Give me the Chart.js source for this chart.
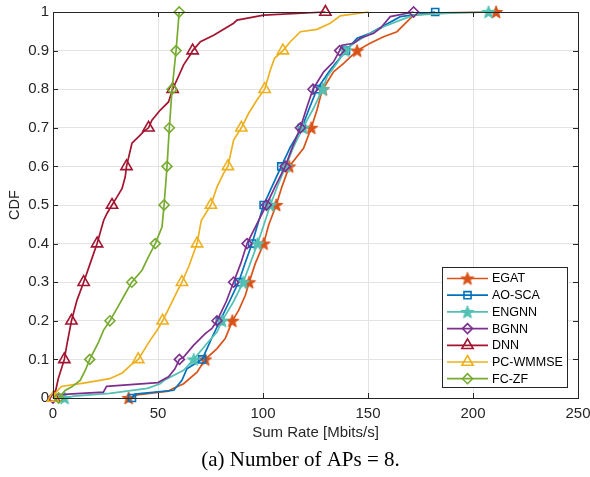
<!DOCTYPE html>
<html>
<head>
<meta charset="utf-8">
<script src="https://cdn.jsdelivr.net/npm/chart.js@4.4.1/dist/chart.umd.min.js"></script>
<style>
  html, body { margin: 0; padding: 0; background: #fff; }
  #wrap { width: 590px; height: 477px; }
</style>
</head>
<body>
<div id="wrap"><canvas id="cdfChart" width="590" height="477"></canvas></div>
<script>
const rateTicks = [0, 50, 100, 150, 200, 250];
const cdfTicks = [0, 0.1, 0.2, 0.3, 0.4, 0.5, 0.6, 0.7, 0.8, 0.9, 1];
const caption = "(a) Number of APs = 8.";

// empirical CDF of the sum rate, one pair of arrays per method
const egatRate = [36, 40, 55, 57.4, 62.2, 68.6, 72.5, 78.1, 82, 83.6, 85.4, 88.4, 91.6, 93.4, 96.3, 100.3, 102.7, 106.3, 109, 112.5, 119.3, 123, 125.7, 127.3, 128.5, 133.6, 138.4, 144.8, 151, 157.4, 163.8, 168.6, 171.7, 185, 211];
const egatCdf = [0, 0.008, 0.018, 0.025, 0.037, 0.067, 0.1, 0.128, 0.154, 0.175, 0.2, 0.227, 0.266, 0.3, 0.348, 0.4, 0.448, 0.5, 0.547, 0.6, 0.647, 0.7, 0.746, 0.78, 0.8, 0.845, 0.867, 0.9, 0.919, 0.936, 0.949, 0.975, 0.992, 0.998, 1];

const aoscaRate = [37.6, 39, 57.5, 61.4, 63.8, 71, 73.5, 76, 79.5, 84, 88.4, 91.5, 94.8, 97.5, 100.3, 104.5, 108.7, 113, 118.5, 122, 125.7, 132, 139.5, 144.8, 151, 165.4, 182];
const aoscaCdf = [0, 0.01, 0.02, 0.046, 0.076, 0.1, 0.13, 0.16, 0.2, 0.25, 0.3, 0.35, 0.4, 0.45, 0.5, 0.55, 0.6, 0.65, 0.7, 0.75, 0.8, 0.85, 0.9, 0.932, 0.945, 0.988, 1];

const engnnRate = [5.5, 10, 27, 45, 51, 53, 62.2, 67, 73.3, 78.1, 80.5, 86, 90.6, 94, 97.4, 100.5, 103.5, 107, 110.8, 114.5, 119, 124, 128.4, 130.5, 135.2, 139.2, 143.2, 149.5, 157.4, 165.4, 171.7, 189, 207.4];
const engnnCdf = [0, 0.005, 0.012, 0.025, 0.037, 0.046, 0.072, 0.1, 0.141, 0.171, 0.2, 0.25, 0.3, 0.35, 0.4, 0.45, 0.5, 0.55, 0.6, 0.65, 0.7, 0.75, 0.8, 0.832, 0.867, 0.9, 0.919, 0.94, 0.962, 0.979, 0.992, 0.997, 1];

const bgnnRate = [0, 1, 24, 25.5, 50, 55, 58, 60.2, 62.2, 67, 72.5, 75.7, 78.1, 82.5, 86, 89.5, 92.4, 97, 101.6, 106, 110.6, 114, 117.8, 121, 123.8, 128.9, 133.6, 136.5, 137.6, 143.2, 146.3, 152.7, 155.9, 160.6, 171.7];
const bgnnCdf = [0, 0.008, 0.015, 0.03, 0.04, 0.055, 0.075, 0.1, 0.106, 0.137, 0.167, 0.18, 0.2, 0.25, 0.3, 0.35, 0.4, 0.45, 0.5, 0.55, 0.6, 0.65, 0.7, 0.755, 0.8, 0.845, 0.871, 0.9, 0.914, 0.919, 0.932, 0.945, 0.958, 0.988, 1];

const dnnRate = [0.5, 2.5, 5.4, 6.7, 8.8, 11.4, 14.6, 17.8, 21, 24.1, 25.7, 28.1, 30.5, 32.9, 34.4, 35, 37.6, 40.8, 43.1, 45.5, 47.1, 51.1, 55, 57, 62.2, 65.4, 66.5, 70.2, 76.5, 86, 87.6, 100.3, 129.7];
const dnnCdf = [0, 0.05, 0.1, 0.141, 0.2, 0.253, 0.3, 0.35, 0.4, 0.46, 0.478, 0.5, 0.521, 0.543, 0.573, 0.6, 0.66, 0.677, 0.69, 0.7, 0.72, 0.746, 0.767, 0.8, 0.863, 0.889, 0.9, 0.923, 0.94, 0.971, 0.979, 0.992, 1];

const wmmseRate = [0, 1.5, 4, 16, 27, 33, 37, 40.6, 46.3, 49.5, 52.2, 56.7, 59, 61.4, 64.6, 68.6, 70.6, 75.2, 78.1, 81.2, 83.3, 86, 89.7, 93.1, 97.1, 100.8, 103.5, 105.5, 109.5, 113, 117.8, 125.7, 132, 136.8, 150.3];
const wmmseCdf = [0, 0.015, 0.03, 0.04, 0.05, 0.065, 0.085, 0.1, 0.15, 0.175, 0.2, 0.249, 0.275, 0.3, 0.34, 0.4, 0.46, 0.5, 0.547, 0.582, 0.6, 0.668, 0.7, 0.737, 0.772, 0.8, 0.85, 0.88, 0.9, 0.923, 0.949, 0.955, 0.971, 0.99, 1];

const fczfRate = [2.7, 5.9, 9, 13, 15.4, 17.5, 21.7, 24.1, 27.1, 30.5, 34.4, 37.5, 42.4, 45.5, 48.7, 51.9, 52.9, 54.3, 55.4, 56.7, 58.6, 60.1];
const fczfCdf = [0, 0.02, 0.029, 0.046, 0.072, 0.1, 0.145, 0.176, 0.2, 0.232, 0.27, 0.3, 0.331, 0.366, 0.4, 0.443, 0.5, 0.6, 0.7, 0.8, 0.9, 1];

const seriesNames = ["EGAT", "AO-SCA", "ENGNN", "BGNN", "DNN", "PC-WMMSE", "FC-ZF"];
const seriesRates = [egatRate, aoscaRate, engnnRate, bgnnRate, dnnRate, wmmseRate, fczfRate];
const seriesCdfs = [egatCdf, aoscaCdf, engnnCdf, bgnnCdf, dnnCdf, wmmseCdf, fczfCdf];
// highest CDF level that still gets a marker
const lastMarked = [1, 1, 1, 1, 1, 0.9, 1];

const colors = ["#D95319", "#0072BD", "#52C1B3", "#7E2F8E", "#A2142F", "#EDB120", "#77AC30"];
const markers = ["star", "rect", "star", "rectRot", "triangle", "triangle", "rectRot"];
const markerSize = { star: 7, rect: 5, rectRot: 5, triangle: 6.5 };

// five-pointed star, Chart.js only has an asterisk
function pentagram(color) {
  const c = document.createElement("canvas");
  c.width = 16;
  c.height = 16;
  const g = c.getContext("2d");
  g.translate(8, 8.6);
  g.beginPath();
  for (let k = 0; k < 10; k++) {
    const r = k % 2 === 0 ? 6.8 : 2.8;
    const a = -Math.PI / 2 + (k * Math.PI) / 5;
    g.lineTo(r * Math.cos(a), r * Math.sin(a));
  }
  g.closePath();
  g.fillStyle = color;
  g.fill();
  g.strokeStyle = color;
  g.lineWidth = 1;
  g.stroke();
  return c;
}

function onDecile(y) {
  return Math.abs(y * 10 - Math.round(y * 10)) < 1e-9;
}

const datasets = seriesNames.map((name, i) => {
  const style = markers[i] === "star" ? pentagram(colors[i]) : markers[i];
  return {
    label: name,
    data: seriesRates[i].map((x, k) => ({ x: x, y: seriesCdfs[i][k] })),
    borderColor: colors[i],
    backgroundColor: colors[i],
    borderWidth: 1.7,
    tension: 0,
    clip: false,
    order: seriesNames.length - i,
    pointStyle: style,
    pointBorderColor: colors[i],
    pointBackgroundColor: "rgba(0,0,0,0)",
    pointBorderWidth: 1.6,
    pointRadius: (c) => {
      const y = c.raw ? c.raw.y : 0;
      return onDecile(y) && y <= lastMarked[i] + 1e-9 ? markerSize[markers[i]] : 0;
    },
    pointHoverRadius: 0,
  };
});

const tickFont = { family: "'Liberation Sans', Arial, sans-serif", size: 15 };
const ink = "#262626";

// closed box with inward tick marks on all four sides
const axesBox = {
  id: "axesBox",
  afterDatasetsDraw(chart) {
    const { ctx, chartArea: a, scales } = chart;
    const len = 5;
    ctx.save();
    ctx.strokeStyle = ink;
    ctx.lineWidth = 1;
    ctx.strokeRect(a.left + 0.5, a.top + 0.5, a.right - a.left, a.bottom - a.top);
    ctx.beginPath();
    rateTicks.forEach((v) => {
      const x = Math.round(scales.x.getPixelForValue(v)) + 0.5;
      ctx.moveTo(x, a.bottom);
      ctx.lineTo(x, a.bottom - len);
      ctx.moveTo(x, a.top);
      ctx.lineTo(x, a.top + len);
    });
    cdfTicks.forEach((v) => {
      const y = Math.round(scales.y.getPixelForValue(v)) + 0.5;
      ctx.moveTo(a.left, y);
      ctx.lineTo(a.left + len, y);
      ctx.moveTo(a.right, y);
      ctx.lineTo(a.right - len, y);
    });
    ctx.stroke();
    ctx.restore();
  },
};

// boxed legend in the lower right corner, line sample with the marker on it
const boxLegend = {
  id: "boxLegend",
  afterDraw(chart) {
    const { ctx, chartArea: a } = chart;
    const left = a.right - 136;
    const top = a.bottom - 131;
    const w = 125;
    const h = 120;
    ctx.save();
    ctx.fillStyle = "#fff";
    ctx.fillRect(left, top, w, h);
    ctx.strokeStyle = ink;
    ctx.lineWidth = 1;
    ctx.strokeRect(left + 0.5, top + 0.5, w, h);
    ctx.font = "12.5px 'Liberation Sans', Arial, sans-serif";
    ctx.textBaseline = "middle";
    chart.data.datasets.forEach((ds, i) => {
      const y = top + 11.5 + i * 16.7;
      ctx.strokeStyle = ds.borderColor;
      ctx.lineWidth = 1.7;
      ctx.beginPath();
      ctx.moveTo(left + 5, y);
      ctx.lineTo(left + 46, y);
      ctx.stroke();
      ctx.lineWidth = 1.6;
      ctx.fillStyle = "rgba(0,0,0,0)";
      Chart.helpers.drawPoint(ctx, {
        pointStyle: ds.pointStyle,
        radius: markerSize[markers[i]],
        rotation: 0,
        borderWidth: 1.6,
      }, left + 25.5, y);
      ctx.fillStyle = "#000";
      ctx.fillText(ds.label, left + 50, y + 0.5);
    });
    ctx.restore();
  },
};

// figure caption under the axis title
const figCaption = {
  id: "figCaption",
  afterDraw(chart) {
    const ctx = chart.ctx;
    ctx.save();
    ctx.font = "21px 'Liberation Serif', 'Times New Roman', serif";
    ctx.fillStyle = "#000";
    ctx.textAlign = "center";
    ctx.textBaseline = "middle";
    ctx.fillText(caption, 300.5, chart.height - 17);
    ctx.restore();
  },
};

new Chart(document.getElementById("cdfChart"), {
  type: "line",
  data: { datasets: datasets },
  plugins: [axesBox, boxLegend, figCaption],
  options: {
    responsive: false,
    animation: false,
    events: [],
    layout: { padding: { left: 0, right: 12, top: 12, bottom: 30 } },
    plugins: {
      legend: { display: false },
      tooltip: { enabled: false },
    },
    scales: {
      x: {
        type: "linear",
        min: 0,
        max: 250,
        afterFit: (s) => {
          s.height = 49;
          s.paddingLeft = 0;
          s.paddingRight = 0;
        },
        afterBuildTicks: (s) => { s.ticks = rateTicks.map((v) => ({ value: v })); },
        ticks: { color: ink, font: tickFont, padding: 7, maxRotation: 0 },
        grid: { color: "#e3e3e3", drawTicks: false },
        border: { display: false },
        title: {
          display: true,
          text: "Sum Rate [Mbits/s]",
          color: ink,
          font: tickFont,
          padding: { top: 0, bottom: 5 },
        },
      },
      y: {
        type: "linear",
        min: 0,
        max: 1,
        afterFit: (s) => {
          s.width = 53;
          s.paddingTop = 0;
          s.paddingBottom = 0;
        },
        afterBuildTicks: (s) => { s.ticks = cdfTicks.map((v) => ({ value: v })); },
        ticks: { color: ink, font: tickFont, padding: 4, callback: (v) => String(v) },
        grid: { color: "#e3e3e3", drawTicks: false },
        border: { display: false },
        title: {
          display: true,
          text: "CDF",
          color: ink,
          font: { family: "'Liberation Sans', Arial, sans-serif", size: 14.5 },
          padding: { top: 6, bottom: 0 },
        },
      },
    },
  },
});
</script>
</body>
</html>
